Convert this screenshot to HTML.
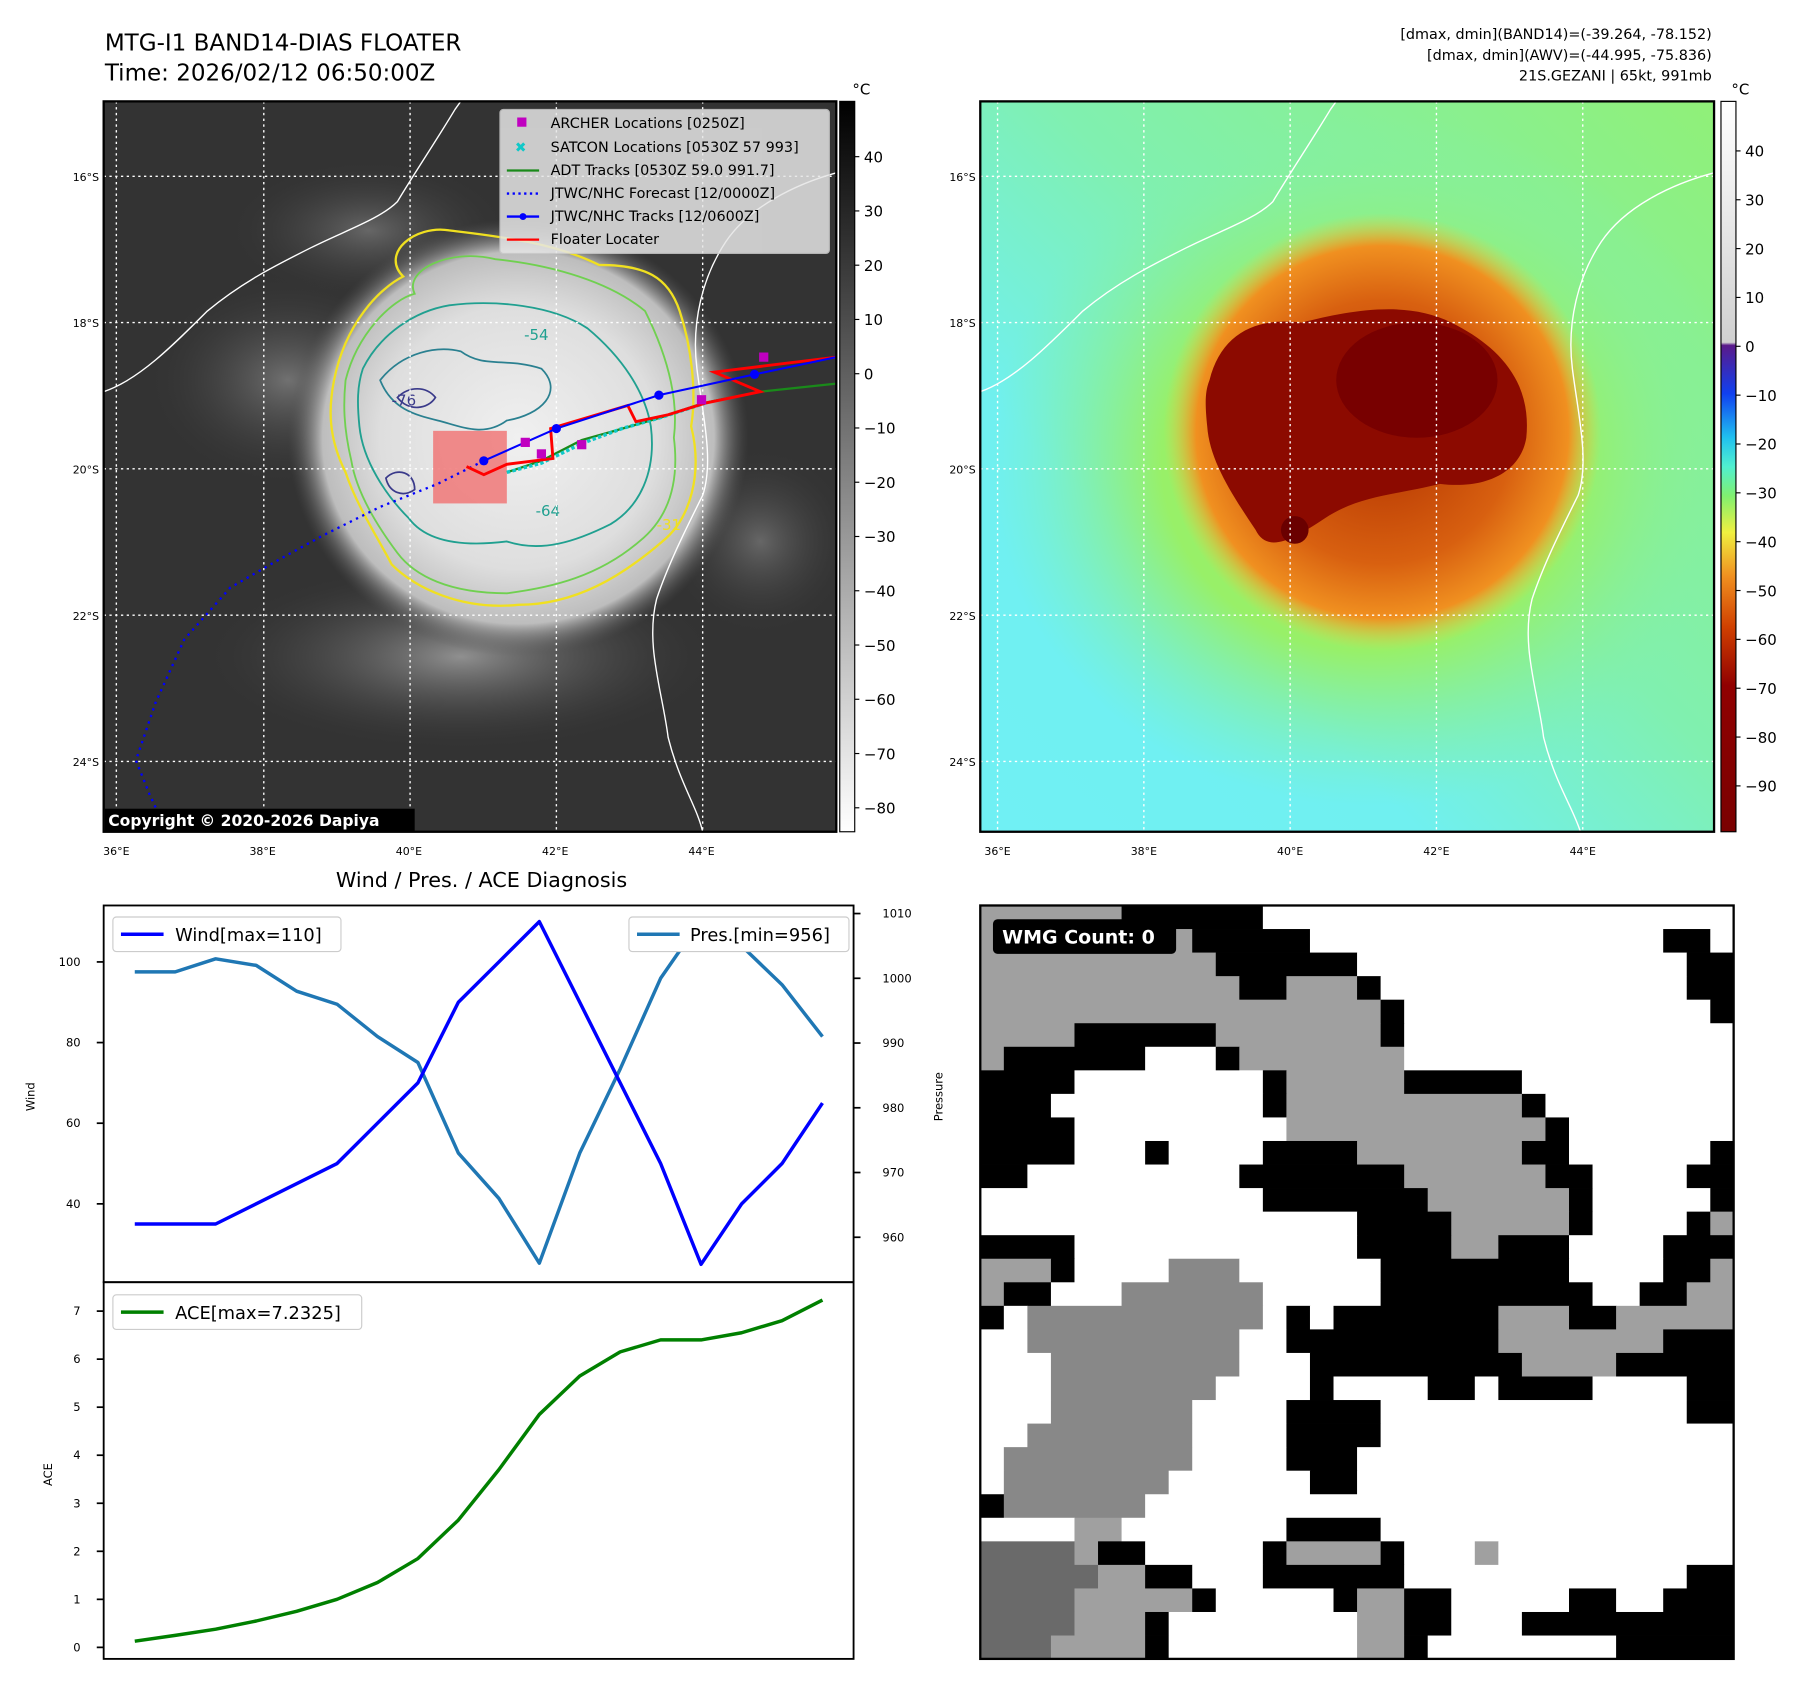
<!DOCTYPE html>
<html><head><meta charset="utf-8"><style>
html,body{margin:0;padding:0;background:#fff;}
svg{display:block;font-family:"DejaVu Sans","Liberation Sans",sans-serif;}
</style></head><body>
<svg id="root" width="1797" height="1690" viewBox="0 0 1560 1467" preserveAspectRatio="none" xmlns="http://www.w3.org/2000/svg">
<defs>
 <radialGradient id="cloud" cx="0.5" cy="0.5" r="0.5">
  <stop offset="0" stop-color="#f0f0f0"/><stop offset="0.6" stop-color="#dedede"/><stop offset="0.85" stop-color="#bdbdbd"/><stop offset="1" stop-color="#555" stop-opacity="0"/>
 </radialGradient>
 <radialGradient id="band" cx="0.5" cy="0.5" r="0.5">
  <stop offset="0" stop-color="#9a9a9a"/><stop offset="1" stop-color="#3a3a3a" stop-opacity="0"/>
 </radialGradient>
 <radialGradient id="orange" cx="0.5" cy="0.5" r="0.5">
  <stop offset="0" stop-color="#b03000"/><stop offset="0.6" stop-color="#d86010"/><stop offset="0.85" stop-color="#f09020"/><stop offset="1" stop-color="#e8d040" stop-opacity="0"/>
 </radialGradient>
 <radialGradient id="greenhalo" cx="0.5" cy="0.5" r="0.5">
  <stop offset="0.55" stop-color="#98f068"/><stop offset="1" stop-color="#80f0b0" stop-opacity="0"/>
 </radialGradient>
 <linearGradient id="cbgray" x1="0" y1="0" x2="0" y2="1">
  <stop offset="0" stop-color="#000"/><stop offset="1" stop-color="#fff"/>
 </linearGradient>
 <linearGradient id="cbcol" x1="0" y1="0" x2="0" y2="1">
  <stop offset="0" stop-color="#ffffff"/><stop offset="0.33" stop-color="#d0d0d0"/>
  <stop offset="0.334" stop-color="#5a1a8a"/><stop offset="0.40" stop-color="#1040f0"/>
  <stop offset="0.46" stop-color="#20c0f0"/><stop offset="0.50" stop-color="#50f0d0"/>
  <stop offset="0.54" stop-color="#80f070"/><stop offset="0.59" stop-color="#f0f040"/>
  <stop offset="0.65" stop-color="#f09020"/><stop offset="0.72" stop-color="#d04000"/>
  <stop offset="0.80" stop-color="#900000"/><stop offset="1" stop-color="#7a0000"/>
 </linearGradient>
 <linearGradient id="rbg" x1="1" y1="0" x2="0" y2="1">
  <stop offset="0" stop-color="#90f078"/><stop offset="0.45" stop-color="#80f0b0"/><stop offset="0.7" stop-color="#70f0f0"/><stop offset="1" stop-color="#70f0f4"/>
 </linearGradient>
 <clipPath id="clipL"><rect x="90" y="88" width="636" height="634"/></clipPath>
 <clipPath id="clipR"><rect x="851" y="88" width="637" height="634"/></clipPath>
</defs>

<text x="91" y="44" font-size="20">MTG-I1 BAND14-DIAS FLOATER</text>
<text x="91" y="70" font-size="20">Time: 2026/02/12 06:50:00Z</text>
<g font-size="12.5" text-anchor="end">
 <text x="1486" y="34">[dmax, dmin](BAND14)=(-39.264, -78.152)</text>
 <text x="1486" y="52">[dmax, dmin](AWV)=(-44.995, -75.836)</text>
 <text x="1486" y="70">21S.GEZANI | 65kt, 991mb</text>
</g>

<g clip-path="url(#clipL)">
 <rect x="90" y="88" width="636" height="634" fill="#333"/>
 <ellipse cx="250" cy="330" rx="120" ry="90" fill="url(#band)" opacity="0.6"/>
 <ellipse cx="400" cy="570" rx="220" ry="80" fill="url(#band)" opacity="0.9"/>
 <ellipse cx="660" cy="470" rx="80" ry="80" fill="url(#band)" opacity="0.5"/>
 <ellipse cx="320" cy="200" rx="120" ry="60" fill="url(#band)" opacity="0.5"/>
 <ellipse cx="450" cy="380" rx="200" ry="190" fill="url(#cloud)"/>
 <path d="M290,330 C300,280 330,250 350,240 C330,220 360,195 390,200 C430,205 480,210 520,230 C560,230 580,240 590,270 C600,300 605,340 600,370 C610,410 600,450 575,470 C540,500 500,525 450,525 C400,530 360,510 340,490 C330,470 310,440 300,410 C285,380 285,355 290,330 Z" fill="none" stroke="#f0e020" stroke-width="2"/>
 <path d="M300,330 C310,290 340,260 360,255 C350,235 390,215 430,225 C480,230 530,245 560,270 C575,300 590,340 585,380 C590,420 580,450 555,470 C520,500 480,510 440,515 C390,515 360,500 345,480 C330,460 310,430 305,400 C298,370 298,350 300,330 Z" fill="none" stroke="#70d050" stroke-width="1.6"/>
 <path d="M315,320 C330,290 360,270 390,265 C430,260 480,265 510,285 C540,310 560,340 565,370 C570,410 555,440 530,455 C500,470 470,480 440,470 C400,475 370,470 355,450 C335,430 315,400 312,370 C310,350 310,335 315,320 Z" fill="none" stroke="#20a090" stroke-width="1.6"/>
 <path d="M330,330 C350,305 380,300 400,305 C420,320 440,310 470,320 C490,340 470,360 440,365 C420,380 400,370 380,365 C360,360 340,355 330,330 Z" fill="none" stroke="#2a8090" stroke-width="1.5"/>
 <path d="M345,345 C355,335 370,335 378,345 C372,355 355,358 345,345 Z" fill="none" stroke="#3a3a8a" stroke-width="1.5"/>
 <path d="M335,415 C345,405 360,410 360,425 C350,432 338,428 335,415 Z" fill="none" stroke="#3a3a8a" stroke-width="1.5"/>
 <text x="340" y="352" font-size="13" fill="#3a3a8a">-76</text>
 <text x="455" y="295" font-size="13" fill="#20a090">-54</text>
 <text x="465" y="448" font-size="13" fill="#20a090">-64</text>
 <text x="570" y="460" font-size="13" fill="#f0e020">-31</text>
 <path d="M90,340 C120,330 150,300 180,270 C210,245 240,230 270,215 C300,200 330,190 345,175 C360,150 380,120 395,95 L400,88" fill="none" stroke="#fff" stroke-width="1.2"/>
 <path d="M726,150 C690,160 650,180 630,210 C610,240 600,280 605,320 C610,360 620,400 610,430 C595,460 580,490 570,520 C560,560 575,600 580,640 C590,680 605,700 610,722" fill="none" stroke="#fff" stroke-width="1.2"/>
 <g stroke="#fff" stroke-width="1.2" stroke-dasharray="2,3">
  <line x1="101" y1="88" x2="101" y2="722"/><line x1="229" y1="88" x2="229" y2="722"/><line x1="356" y1="88" x2="356" y2="722"/><line x1="483" y1="88" x2="483" y2="722"/><line x1="610" y1="88" x2="610" y2="722"/>
  <line x1="90" y1="153" x2="726" y2="153"/><line x1="90" y1="280" x2="726" y2="280"/><line x1="90" y1="407" x2="726" y2="407"/><line x1="90" y1="534" x2="726" y2="534"/><line x1="90" y1="661" x2="726" y2="661"/>
 </g>
 <rect x="376" y="374" width="64" height="63" fill="#f07878" opacity="0.85"/>
 <polyline points="420,400 380,420 330,440 280,465 240,487 200,510 160,555 135,610 118,660 130,690 145,722" fill="none" stroke="#0000ff" stroke-width="2" stroke-dasharray="2,4"/>
 <polyline points="440,410 470,400 505,382 530,375 575,362 610,350 660,340 726,333" fill="none" stroke="#1a8a1a" stroke-width="2"/>
 <polyline points="440,410 470,402 505,385 540,372 575,362 612,350" fill="none" stroke="#10c8c8" stroke-width="3" stroke-dasharray="3,2"/>
 <polyline points="405,405 420,412 440,403 480,398 478,372 545,352 552,366 580,360 612,350 660,340 620,323 726,310" fill="none" stroke="#ff0000" stroke-width="2.5"/>
 <polyline points="420,400 483,372 572,343 655,325 726,310" fill="none" stroke="#0000ff" stroke-width="1.8"/>
 <g fill="#0000ff"><circle cx="420" cy="400" r="4"/><circle cx="483" cy="372" r="4"/><circle cx="572" cy="343" r="4"/><circle cx="655" cy="325" r="4"/></g>
 <g fill="#c000c0"><rect x="452" y="380" width="8" height="8"/><rect x="466" y="390" width="8" height="8"/><rect x="501" y="382" width="8" height="8"/><rect x="605" y="343" width="8" height="8"/><rect x="659" y="306" width="8" height="8"/></g>
 <rect x="434" y="95" width="286" height="125" fill="#e6e6e6" opacity="0.85" stroke="#ccc" rx="3"/>
 <g font-size="12.5">
  <rect x="449" y="102" width="8" height="8" fill="#c000c0"/><text x="478" y="111">ARCHER Locations [0250Z]</text>
  <text x="447" y="132" fill="#10c8c8" font-size="12">✖</text><text x="478" y="132">SATCON Locations [0530Z 57 993]</text>
  <line x1="440" y1="148" x2="468" y2="148" stroke="#1a8a1a" stroke-width="2"/><text x="478" y="152">ADT Tracks [0530Z 59.0 991.7]</text>
  <line x1="440" y1="168" x2="468" y2="168" stroke="#0000ff" stroke-width="2" stroke-dasharray="2,3"/><text x="478" y="172">JTWC/NHC Forecast [12/0000Z]</text>
  <line x1="440" y1="188" x2="468" y2="188" stroke="#0000ff" stroke-width="2"/><circle cx="454" cy="188" r="3" fill="#0000ff"/><text x="478" y="192">JTWC/NHC Tracks [12/0600Z]</text>
  <line x1="440" y1="208" x2="468" y2="208" stroke="#ff0000" stroke-width="2"/><text x="478" y="212">Floater Locater</text>
 </g>
 <rect x="91" y="702" width="269" height="20" fill="#000"/>
 <text x="94" y="717" font-size="13.5" font-weight="bold" fill="#fff">Copyright © 2020-2026 Dapiya</text>
</g>
<rect x="90" y="88" width="636" height="634" fill="none" stroke="#000" stroke-width="2"/>

<rect x="729" y="88" width="13" height="634" fill="url(#cbgray)" stroke="#000" stroke-width="1"/>
<text x="740" y="82" font-size="13">°C</text>
<g id="cbLticks" font-size="13"></g>

<g clip-path="url(#clipR)">
 <rect x="851" y="88" width="637" height="634" fill="url(#rbg)"/>
 <ellipse cx="1190" cy="400" rx="330" ry="300" fill="url(#greenhalo)"/>
 <ellipse cx="1200" cy="375" rx="190" ry="190" fill="url(#orange)"/>
 <path d="M1050,330 C1060,290 1090,275 1130,280 C1170,270 1220,260 1260,280 C1300,300 1330,330 1325,380 C1320,410 1290,425 1250,420 C1210,430 1180,430 1150,450 C1120,470 1100,480 1090,460 C1070,430 1050,400 1048,370 C1046,350 1046,340 1050,330 Z" fill="#8c0a00"/>
 <ellipse cx="1230" cy="330" rx="70" ry="50" fill="#780000"/>
 <ellipse cx="1124" cy="460" rx="12" ry="12" fill="#6a0000"/>
 <path d="M851,340 C880,330 910,300 940,270 C970,245 1000,230 1030,215 C1060,200 1090,190 1105,175 C1120,150 1140,120 1155,95 L1160,88" fill="none" stroke="#fff" stroke-width="1.2"/>
 <path d="M1488,150 C1450,160 1410,180 1390,210 C1370,240 1360,280 1365,320 C1370,360 1380,400 1370,430 C1355,460 1340,490 1330,520 C1320,560 1335,600 1340,640 C1350,680 1365,700 1372,722" fill="none" stroke="#fff" stroke-width="1.2"/>
 <g stroke="#fff" stroke-width="1.2" stroke-dasharray="2,3">
  <line x1="866" y1="88" x2="866" y2="722"/><line x1="993" y1="88" x2="993" y2="722"/><line x1="1120" y1="88" x2="1120" y2="722"/><line x1="1247" y1="88" x2="1247" y2="722"/><line x1="1374" y1="88" x2="1374" y2="722"/>
  <line x1="851" y1="153" x2="1488" y2="153"/><line x1="851" y1="280" x2="1488" y2="280"/><line x1="851" y1="407" x2="1488" y2="407"/><line x1="851" y1="534" x2="1488" y2="534"/><line x1="851" y1="661" x2="1488" y2="661"/>
 </g>
</g>
<rect x="851" y="88" width="637" height="634" fill="none" stroke="#000" stroke-width="2"/>
<rect x="1494" y="88" width="13" height="634" fill="url(#cbcol)" stroke="#000" stroke-width="1"/>
<text x="1503" y="82" font-size="13">°C</text>
<g id="cbRticks" font-size="13"></g>

<g id="mapLabels" font-size="9.5"></g>

<text x="418" y="770" font-size="18" text-anchor="middle">Wind / Pres. / ACE Diagnosis</text>
<rect x="90" y="786" width="651" height="327" fill="none" stroke="#000" stroke-width="1.6"/>
<rect x="90" y="1113" width="651" height="327" fill="none" stroke="#000" stroke-width="1.6"/>
<g id="charts"></g>
<text transform="translate(30,952) rotate(-90)" font-size="10" text-anchor="middle">Wind</text>
<text transform="translate(818,952) rotate(-90)" font-size="10" text-anchor="middle">Pressure</text>
<text transform="translate(45,1280) rotate(-90)" font-size="10" text-anchor="middle">ACE</text>
<g font-size="15.5">
 <rect x="98" y="796" width="198" height="30" fill="#fff" stroke="#ccc" rx="3"/>
 <line x1="105" y1="811" x2="142" y2="811" stroke="#0000ff" stroke-width="3"/><text x="152" y="817">Wind[max=110]</text>
 <rect x="546" y="796" width="191" height="30" fill="#fff" stroke="#ccc" rx="3"/>
 <line x1="553" y1="811" x2="590" y2="811" stroke="#1f77b4" stroke-width="3"/><text x="599" y="817">Pres.[min=956]</text>
 <rect x="98" y="1124" width="216" height="30" fill="#fff" stroke="#ccc" rx="3"/>
 <line x1="105" y1="1139" x2="142" y2="1139" stroke="#008000" stroke-width="3"/><text x="152" y="1145">ACE[max=7.2325]</text>
</g>

<g id="wmg" transform="translate(851,786) scale(0.4215)"></g>
<rect x="851" y="786" width="654" height="654" fill="none" stroke="#000" stroke-width="2"/>
<rect x="862" y="798" width="159" height="30" rx="4" fill="#000"/>
<text x="870" y="819" font-size="16.5" font-weight="bold" fill="#fff">WMG Count: 0</text>
</svg>
<script>
const NS = "http://www.w3.org/2000/svg";
const windValues = [35,35,35,40,45,50,60,70,90,100,110,90,70,50,25,40,50,65];
const presValues = [1001,1001,1003,1002,998,996,991,987,973,966,956,973,986,1000,1009,1005,999,991];
const aceValues = [0.13,0.25,0.38,0.55,0.75,1.0,1.35,1.85,2.65,3.7,4.85,5.65,6.15,6.4,6.4,6.55,6.8,7.23];
const windTicks = [40,60,80,100];
const presTicks = [960,970,980,990,1000,1010];
const aceTicks = [0,1,2,3,4,5,6,7];
const grayCbTicks = [40,30,20,10,0,-10,-20,-30,-40,-50,-60,-70,-80];
const colCbTicks = [40,30,20,10,0,-10,-20,-30,-40,-50,-60,-70,-80,-90];
const latLabels = ["16°S","18°S","20°S","22°S","24°S"];
const lonLabels = ["36°E","38°E","40°E","42°E","44°E"];

const xScale = i => 117 + i * (714 - 117) / (windValues.length - 1);
const yWind = v => 835 + (100 - v) * 3.5;
const yPres = v => 793 + (1010 - v) * 5.62;
const yAce = v => 1430 - v * 41.7;
const yGrayCb = v => 136 + (40 - v) * 4.71;
const yColCb = v => 131 + (40 - v) * 4.24;

function mk(tag, attrs, parent) {
  const e = document.createElementNS(NS, tag);
  for (const k in attrs) e.setAttribute(k, attrs[k]);
  parent.appendChild(e);
  return e;
}
const charts = document.getElementById('charts');
function line(vals, yf, color, name) {
  const pts = vals.map((v, i) => xScale(i).toFixed(1) + ',' + yf(v).toFixed(1)).join(' ');
  const p = mk('polyline', {points: pts, fill: 'none', stroke: color, 'stroke-width': 3, 'stroke-linejoin': 'round'}, charts);
  
  
}
line(presValues, yPres, '#1f77b4', 'pressure-line');
line(windValues, yWind, '#0000ff', 'wind-line');
line(aceValues, yAce, '#008000', 'ace-line');

windTicks.forEach(v => {
  const y = yWind(v);
  mk('line', {x1: 84, y1: y, x2: 90, y2: y, stroke: '#000', 'stroke-width': 1.5}, charts);
  const t = mk('text', {x: 70, y: y + 3.5, 'font-size': 10, 'text-anchor': 'end'}, charts);
  t.textContent = v;
  
  
});
presTicks.forEach(v => {
  const y = yPres(v);
  mk('line', {x1: 741, y1: y, x2: 747, y2: y, stroke: '#000', 'stroke-width': 1.5}, charts);
  const t = mk('text', {x: 766, y: y + 3.5, 'font-size': 10}, charts);
  t.textContent = v;
  
  
});
aceTicks.forEach(v => {
  const y = yAce(v);
  mk('line', {x1: 84, y1: y, x2: 90, y2: y, stroke: '#000', 'stroke-width': 1.5}, charts);
  const t = mk('text', {x: 70, y: y + 3.5, 'font-size': 10, 'text-anchor': 'end'}, charts);
  t.textContent = v;
  
  
});
const cbL = document.getElementById('cbLticks');
grayCbTicks.forEach(v => {
  const y = yGrayCb(v);
  mk('line', {x1: 742, y1: y, x2: 746, y2: y, stroke: '#000'}, cbL);
  const t = mk('text', {x: 750, y: y + 5}, cbL);
  t.textContent = v < 0 ? '\u2212' + (-v) : v;
  
  
});
const cbR = document.getElementById('cbRticks');
colCbTicks.forEach(v => {
  const y = yColCb(v);
  mk('line', {x1: 1507, y1: y, x2: 1511, y2: y, stroke: '#000'}, cbR);
  const t = mk('text', {x: 1515, y: y + 5}, cbR);
  t.textContent = v < 0 ? '\u2212' + (-v) : v;
  
  
});
const ml = document.getElementById('mapLabels');
latLabels.forEach((s, i) => {
  [86, 847].forEach(x => {
    const t = mk('text', {x: x, y: 157 + i * 127, 'text-anchor': 'end'}, ml);
    t.textContent = s;
    
    
  });
});
lonLabels.forEach((s, i) => {
  [101, 866].forEach(x0 => {
    const t = mk('text', {x: x0 + i * 127, y: 742, 'text-anchor': 'middle'}, ml);
    t.textContent = s;
    
    
  });
});

const wmgRows = [
"2:6,1:6,0:20","2:9,1:5,0:15,1:2,0:1","2:10,1:6,0:14,1:2","2:11,1:2,2:3,1:1,0:13,1:2",
"2:17,1:1,0:13,1:1","2:4,1:6,2:7,1:1,0:14","2:1,1:6,0:3,1:1,2:7,0:14","1:4,0:8,1:1,2:5,1:5,0:9",
"1:3,0:9,1:1,2:10,1:1,0:8","1:4,0:9,2:11,1:1,0:7","1:4,0:3,1:1,0:4,1:4,2:7,1:2,0:6,1:1","1:2,0:9,1:7,2:6,1:2,0:4,1:2",
"0:12,1:7,2:6,1:1,0:5,1:1","0:16,1:4,2:5,1:1,0:4,1:1,2:1","1:4,0:12,1:4,2:2,1:3,0:4,1:3","2:3,1:1,0:4,4:3,0:6,1:8,0:4,1:2,2:1",
"2:1,1:2,0:3,4:6,0:5,1:9,0:2,1:2,2:2","1:1,0:1,4:10,0:1,1:1,0:1,1:7,2:3,1:2,2:5","0:2,4:9,0:2,1:9,2:7,1:3","0:3,4:8,0:3,1:9,2:4,1:5",
"0:3,4:7,0:4,1:1,0:4,1:2,0:1,1:4,0:4,1:2","0:3,4:6,0:4,1:4,0:13,1:2","0:2,4:7,0:4,1:4,0:15","0:1,4:8,0:4,1:3,0:16",
"0:1,4:7,0:6,1:2,0:16","1:1,4:6,0:25","0:4,2:2,0:7,1:4,0:15","3:4,2:1,1:2,0:5,1:1,2:4,1:1,0:3,2:1,0:10",
"3:5,2:2,1:2,0:3,1:6,0:12,1:2","3:4,2:5,1:1,0:5,1:1,2:2,1:2,0:5,1:2,0:2,1:3","3:4,2:3,1:1,0:8,2:2,1:2,0:3,1:9","3:3,2:4,1:1,0:8,2:2,1:1,0:8,1:5"
];
const wmgColors = {"0": "#ffffff", "1": "#000000", "2": "#a0a0a0", "3": "#6a6a6a", "4": "#888888"};
const wmg = document.getElementById('wmg');
const cell = 1552 / 32;
wmgRows.forEach((row, r) => {
  let c = 0;
  row.split(',').forEach(seg => {
    const [k, n] = seg.split(':');
    const w = +n;
    mk('rect', {x: (c * cell).toFixed(1), y: (r * cell).toFixed(1), width: (w * cell + 0.8).toFixed(1), height: (cell + 0.8).toFixed(1), fill: wmgColors[k]}, wmg);
    c += w;
  });
});
</script>
</body></html>
